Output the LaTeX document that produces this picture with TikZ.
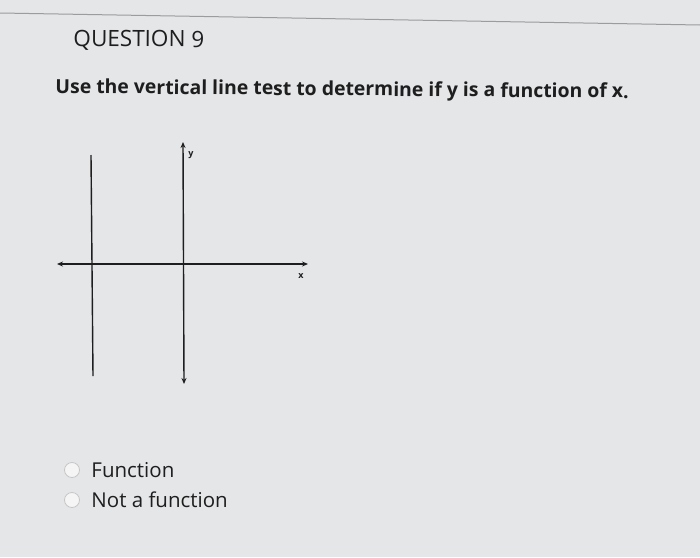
\documentclass[tikz,border=0pt]{standalone}
\usepackage{fontspec}
\setmainfont{Open Sans}
\usetikzlibrary{arrows.meta, positioning}
\definecolor{bg}{HTML}{E4E6E8}
\definecolor{ink}{HTML}{1E1E1E}
\definecolor{rule}{HTML}{9A9C9E}
\tikzstyle{axis} = [ink, line width=1.4pt, <->, >={Stealth[length=6pt,width=5pt]}]
\tikzstyle{vline} = [ink, line width=1.4pt]
\tikzstyle{heading} = [anchor=west, text=ink, font=\fontsize{22.5}{26}\selectfont]
\tikzstyle{question} = [anchor=west, text=ink, font=\bfseries\fontsize{19.4}{23}\selectfont]
\tikzstyle{answer} = [anchor=west, text=ink, font=\fontsize{20.5}{24}\selectfont]
\tikzstyle{radio} = [circle, draw=gray!45, fill=gray!8, line width=0.8pt, minimum size=15pt, inner sep=0pt]
\tikzstyle{axlabel} = [text=ink, font=\rmfamily\bfseries\fontsize{9}{10}\selectfont, inner sep=1pt]
\begin{document}
\begin{tikzpicture}[x=1pt, y=-1pt]
%----------------------------------------------------------------------------
% Page
\fill [bg] (0,0) rectangle (700,557);
\useasboundingbox (0,0) rectangle (700,557);
\coordinate (ruleL) at (0,13);
\coordinate (ruleR) at (700,25);
\draw [rule, line width=1pt] (ruleL) -- (ruleR);

%----------------------------------------------------------------------------
% Texts
\node (title) [heading, rotate=-0.4] at (70,40) {QUESTION 9};
\node (task) [question, rotate=-0.5] at (52,88) {Use the vertical line test to determine if y is a function of x.};

%----------------------------------------------------------------------------
% Graph
\coordinate (xL) at (57,264);
\coordinate (xR) at (308,264);
\coordinate (yT) at (183,142);
\coordinate (yB) at (184,384);
\coordinate (lineT) at (91,155);
\coordinate (lineB) at (93,376);
\draw [axis] (xL) -- (xR);
\draw [axis] (yB) -- (yT);
\draw [vline] (lineT) -- (lineB);
\node (ylab) [axlabel] at (191,155) {y};
\node (xlab) [axlabel] at (301,276) {x};

%----------------------------------------------------------------------------
% Choices
\node (radio1) [radio] at (72,470) {};
\node (radio2) [radio] at (72,500) {};
\node (opt1) [answer, right=8pt of radio1] {Function};
\node (opt2) [answer, right=8pt of radio2] {Not a function};
\end{tikzpicture}
\end{document}
